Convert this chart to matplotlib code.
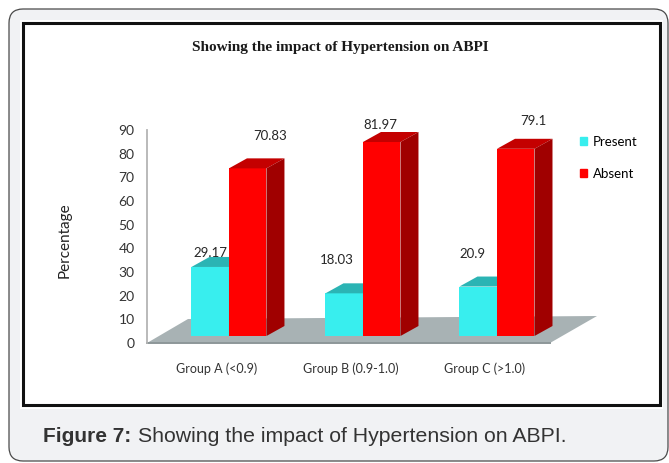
# bar chart of hypertension vs ABPI groups, drawn in a pseudo-3D style

import matplotlib.pyplot as plt
import matplotlib.transforms as mtransforms
from matplotlib.patches import Polygon, Rectangle, FancyBboxPatch, Patch

groups = ['Group A (<0.9)', 'Group B (0.9-1.0)', 'Group C (>1.0)']
present = [29.17, 18.03, 20.9]
absent = [70.83, 81.97, 79.1]
present_text = ['29.17', '18.03', '20.9']
absent_text = ['70.83', '81.97', '79.1']
yticks = [0, 10, 20, 30, 40, 50, 60, 70, 80, 90]
series = ['Present', 'Absent']

W, H = 669, 463
fig = plt.figure(figsize=(W / 100, H / 100), dpi=100)
fig.patch.set_facecolor('white')

# pixel coordinates, origin at top-left
px = mtransforms.Affine2D().scale(1 / 100, -1 / 100).translate(0, H / 100) + fig.dpi_scale_trans

# outer caption panel and white chart frame
fig.add_artist(FancyBboxPatch((9, 9), 659, 452, boxstyle='round,pad=0,rounding_size=14',
                              transform=px, fc='#f1f2f4', ec='#4a4a4a', lw=0.9, zorder=-5))
fig.add_artist(Rectangle((20, 20), 643, 389, transform=px, fc='white', ec='none', zorder=-4))
fig.add_artist(Rectangle((23, 23), 637, 382, transform=px, fc='white', ec='#111111', lw=2.2, zorder=-3))

fig.text(340, 47, 'Showing the impact of Hypertension on ABPI', transform=px,
         family='Liberation Serif', weight='bold', fontsize=11, ha='center', va='center', color='#1a1a1a')

# caption: bold lead-in followed by regular text
cap = fig.text(43, 437, 'Figure 7:', transform=px, family='Liberation Sans', weight='bold',
               fontsize=15, ha='left', va='center', color='#333333')
r = fig.canvas.get_renderer()
bb = cap.get_window_extent(r)
x_end = bb.x1 * 100 / fig.dpi
fig.text(x_end + 7, 437, 'Showing the impact of Hypertension on ABPI.', transform=px,
         family='Liberation Sans', fontsize=15.3, ha='left', va='center', color='#333333')

fig.text(65, 240, 'Percentage', transform=px, family='Lato', fontsize=11,
         rotation=90, ha='center', va='center', color='#222222')

# chart axes: y from 0..90 on the front plane
ax_l, ax_r, ax_t, ax_b = 147, 552, 130, 343
ax = fig.add_axes([ax_l / W, 1 - ax_b / H, (ax_r - ax_l) / W, (ax_b - ax_t) / H])
ax.set_xlim(-0.522, 2.5)
ax.set_ylim(0, 90)
ax.patch.set_visible(False)
for s in ax.spines.values():
    s.set_visible(False)
ax.spines['left'].set_visible(True)
ax.spines['left'].set_color('#b4b4b4')
ax.spines['left'].set_linewidth(1.3)

sx = (ax_r - ax_l) / (2.5 + 0.522)  # pixels per x unit
sy = (ax_b - ax_t) / 90.0           # pixels per y unit

# floor
fl, fr = -0.522, 2.485
floor = Polygon([(fl, 0), (fr, 0), (fr + 47 / sx, 27 / sy), (fl + 41 / sx, 24 / sy)],
                closed=True, fc='#a8b2b4', ec='none', clip_on=False, zorder=1)
ax.add_patch(floor)
ax.plot([fl, fr], [0, 0], color='#8d9799', lw=1.4, clip_on=False, zorder=1.1)

bx, by = 12 / sx, 7 / sy      # bar offset into the depth
w = 37.5 / sx                 # bar width
dx, dy = 18 / sx, 10 / sy     # bar depth

colors = {
    'Present': ('#38eeee', '#2bb4b4', '#22a0a0'),
    'Absent': ('#ff0000', '#c40000', '#a00000'),
}


def draw_box(x0, v, cols, label):
    front, top, side = cols
    x1 = x0 + w
    ax.bar(x0, v, width=w, bottom=by, align='edge', color=front, zorder=3, clip_on=False, label=label)
    ax.add_patch(Polygon([(x0, by + v), (x0 + dx, by + v + dy), (x1 + dx, by + v + dy), (x1, by + v)],
                         closed=True, fc=top, ec='none', zorder=3, clip_on=False))
    ax.add_patch(Polygon([(x1, by), (x1 + dx, by + dy), (x1 + dx, by + v + dy), (x1, by + v)],
                         closed=True, fc=side, ec='none', zorder=3, clip_on=False))


present_off = [(0, 14), (-7, 33), (-6, 33)]
absent_off = [(22, 32), (-1, 17), (18, 28)]

for i in range(len(groups)):
    xc = i - w + bx
    draw_box(xc, present[i], colors['Present'], 'Present' if i == 0 else None)
    draw_box(i + bx, absent[i], colors['Absent'], 'Absent' if i == 0 else None)
    ax.annotate(present_text[i], (xc + w / 2, by + present[i]), xytext=present_off[i],
                textcoords='offset pixels', ha='center', va='center', fontsize=9.5,
                family='Lato', color='#262626', annotation_clip=False)
    ax.annotate(absent_text[i], (i + bx + w / 2, by + absent[i]), xytext=absent_off[i],
                textcoords='offset pixels', ha='center', va='center', fontsize=9.5,
                family='Lato', color='#262626', annotation_clip=False)

ax.set_xticks(range(len(groups)))
ax.set_xticklabels(groups, family='Lato', fontsize=9, color='#333333')
ax.set_yticks(yticks)
ax.set_yticklabels([str(t) for t in yticks], family='Lato', fontsize=10, color='#333333')
ax.tick_params(axis='x', length=0, pad=14)
ax.tick_params(axis='y', length=0, pad=9)

handles = [Patch(color=colors[s][0], label=s) for s in series]
fig.legend(handles=handles, loc='upper left', bbox_to_anchor=(580, 136), bbox_transform=px,
           frameon=False, handlelength=0.55, handleheight=0.55, handletextpad=0.4,
           labelspacing=1.5, borderpad=0, borderaxespad=0,
           prop={'family': 'Lato', 'size': 9.5})

fig.savefig('out.png', dpi=100)
